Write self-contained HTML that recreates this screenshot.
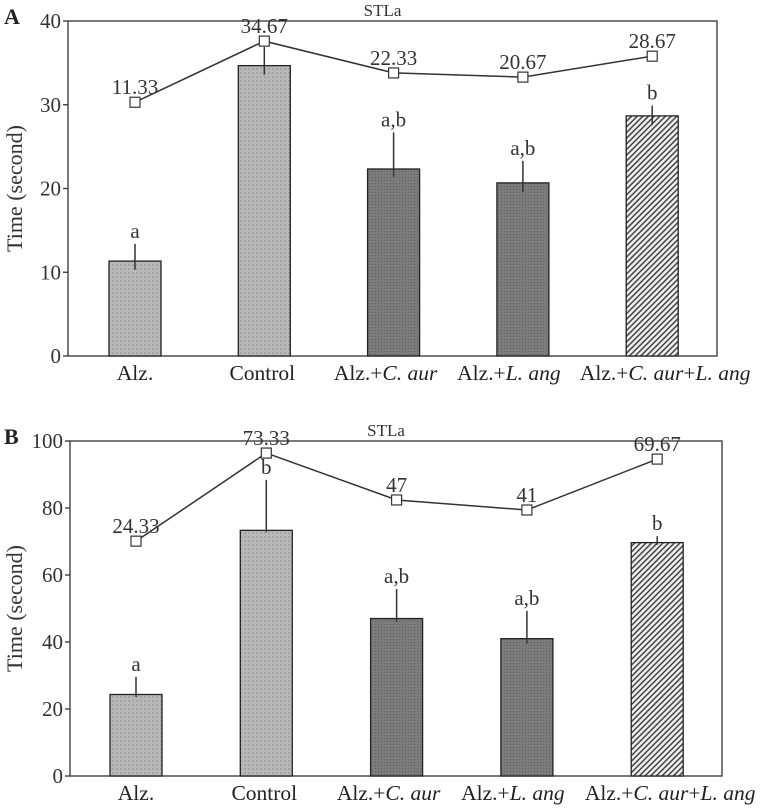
<!DOCTYPE html>
<html><head><meta charset="utf-8"><style>
body{margin:0;background:#fff;}
svg{display:block;font-family:"Liberation Serif",serif;}
</style></head><body>
<svg id="c" width="765" height="810" viewBox="0 0 765 810">
<defs>
<pattern id="pLight" width="4" height="4" patternUnits="userSpaceOnUse"><rect width="4" height="4" fill="#b8b8b8"/><rect width="2" height="2" fill="#a4a4a4"/></pattern>
<pattern id="pDark" width="3" height="3" patternUnits="userSpaceOnUse"><rect width="3" height="3" fill="#7c7c7c"/><rect width="1" height="1" fill="#5e5e5e"/></pattern>
<pattern id="pHatch" width="4" height="4" patternUnits="userSpaceOnUse" patternTransform="rotate(45)"><rect width="4" height="4" fill="#efefef"/><rect width="1.5" height="4" fill="#444"/></pattern>
</defs>
</svg>
<script>
const categories=["Alz.","Control","Alz.+C. aur","Alz.+L. ang","Alz.+C. aur+L. ang"];
const fills=["url(#pLight)","url(#pLight)","url(#pDark)","url(#pDark)","url(#pHatch)"];
const labelShift=[0,-2,-8,-14,13];
// Panel A
const aBars=[11.33,34.67,22.33,20.67,28.67];
const aErrHi=[13.4,36.9,26.7,23.3,29.9];
const aErrLo=[10.3,33.6,21.4,19.6,27.6];
const aLine=[30.3,37.6,33.8,33.3,35.8];
const aLetters=["a","","a,b","a,b","b"];
const aTicks=[0,10,20,30,40];
// Panel B
const bBars=[24.33,73.33,47,41,69.67];
const bErrHi=[29.6,88.4,55.8,49.3,71.6];
const bErrLo=[23.6,72.8,46,39.5,69];
const bLine=[70.1,96.4,82.4,79.4,94.6];
const bLetters=["a","b","a,b","a,b","b"];
const bTicks=[0,20,40,60,80,100];

const svg=document.getElementById('c');
const NS="http://www.w3.org/2000/svg";
function mk(tag,attrs,parent,text){const e=document.createElementNS(NS,tag);for(const k in attrs)e.setAttribute(k,attrs[k]);if(text!==undefined)e.textContent=text;(parent||svg).appendChild(e);return e;}

function panel(p){
  const g=mk('g',{});
  
  
  const x0=p.left,x1=p.right,y0=p.top,y1=p.bottom;
  const ymax=p.ticks[p.ticks.length-1];
  const Y=v=>y1-(v/ymax)*(y1-y0);
  const X=i=>p.c0+i*p.step;
  const bw=52;
  const fr=mk('rect',{x:x0,y:y0,width:x1-x0,height:y1-y0,fill:'none',stroke:'#333','stroke-width':1.3},g);
  
  const pl=mk('text',{x:4,y:y0+3,'font-size':22,'font-weight':'bold',fill:'#222'},g,p.label);
  
  const tt=mk('text',{x:(x0+x1)/2-10,y:y0-5,'font-size':17,'text-anchor':'middle',fill:'#333'},g,'STLa');
  
  p.ticks.forEach(t=>{
    const tk=mk('line',{x1:x0-5,x2:x0,y1:Y(t),y2:Y(t),stroke:'#333','stroke-width':1.3},g);
    
    const tl=mk('text',{x:x0-7,y:Y(t)+7,'font-size':21,'text-anchor':'end',fill:'#333'},g,String(t));
    
  });
  const yt=mk('text',{x:0,y:0,'font-size':22,'text-anchor':'middle',fill:'#333',transform:`translate(22,${(y0+y1)/2}) rotate(-90)`},g,'Time (second)');
  
  p.bars.forEach((v,i)=>{
    const r=mk('rect',{x:X(i)-bw/2,y:Y(v),width:bw,height:Y(0)-Y(v),fill:fills[i],stroke:'#222','stroke-width':1.3},g);
    
    const e=mk('line',{x1:X(i),x2:X(i),y1:Y(p.hi[i]),y2:Y(p.lo[i]),stroke:'#333','stroke-width':1.5},g);
    
    if(p.letters[i]){
      const l=mk('text',{x:X(i),y:Y(p.hi[i])-6,'font-size':21,'text-anchor':'middle',fill:'#333'},g,p.letters[i]);
      
    }
    const cl=mk('text',{x:X(i)+labelShift[i],y:y1+24,'font-size':21.5,'text-anchor':'middle',fill:'#222'},g);
    
    const parts=categories[i].split(/(C\. aur|L\. ang)/);
    parts.forEach(s=>{if(!s)return;const ts=mk('tspan',{},cl,s);if(/aur|ang/.test(s))ts.setAttribute('font-style','italic');});
  });
  const pts=p.line.map((v,i)=>X(i)+','+Y(v)).join(' ');
  const pln=mk('polyline',{points:pts,fill:'none',stroke:'#333','stroke-width':1.5},g);
  
  p.line.forEach((v,i)=>{
    const m=mk('rect',{x:X(i)-5,y:Y(v)-5,width:10,height:10,fill:'#fff',stroke:'#333','stroke-width':1.2},g);
    
    const vl=mk('text',{x:X(i),y:Y(v)-8,'font-size':21,'text-anchor':'middle',fill:'#333'},g,String(p.bars[i]));
    
  });
}
panel({name:'panel-a',label:'A',left:68,right:717,top:21,bottom:356,c0:135,step:129.3,ticks:aTicks,bars:aBars,hi:aErrHi,lo:aErrLo,line:aLine,letters:aLetters});
panel({name:'panel-b',label:'B',left:70,right:722,top:441,bottom:776,c0:136,step:130.3,ticks:bTicks,bars:bBars,hi:bErrHi,lo:bErrLo,line:bLine,letters:bLetters});
</script>
</body></html>
